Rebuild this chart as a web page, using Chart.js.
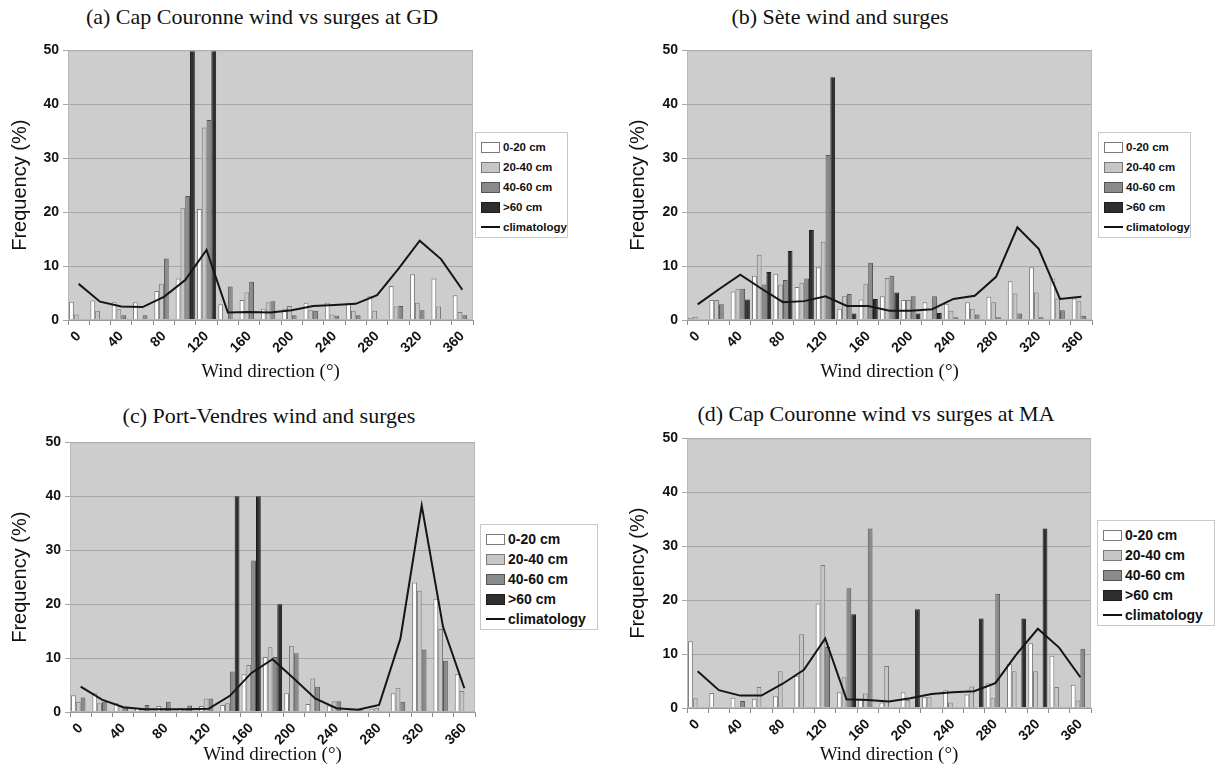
<!DOCTYPE html>
<html>
<head>
<meta charset="utf-8">
<script src="https://cdn.jsdelivr.net/npm/chart.js@4.4.1/dist/chart.umd.min.js"></script>
<style>
  body { margin: 0; background: #fff; }
  #page { position: relative; width: 1221px; height: 772px; overflow: hidden; }
  canvas { position: absolute; }
  .title { position: absolute; width: 600px; text-align: center; font-family: 'Liberation Serif', 'Times New Roman', serif; font-size: 22px; color: #111; white-space: nowrap; }
  .legend { position: absolute; background: #fff; border: 1px solid #c8c8c8; box-sizing: border-box; padding: 4px 0 0 5px; font-family: 'Liberation Sans', Arial, sans-serif; font-weight: bold; color: #111; }
  .legend-item { display: flex; align-items: center; white-space: nowrap; }
  .legend-color { display: inline-block; width: 17px; height: 9px; border: 1px solid #666; margin-right: 3px; }
  .legend-line { display: inline-block; width: 19px; height: 2px; background: #111; margin-right: 3px; }
</style>
</head>
<body>
<div id="page">
  <div class="title" style="left:-38px; top:4px;">(a) Cap Couronne wind vs surges at GD</div>
  <div class="title" style="left:540px; top:4px;">(b) Sète wind and surges</div>
  <div class="title" style="left:-31px; top:403px;">(c) Port-Vendres wind and surges</div>
  <div class="title" style="left:576px; top:401px;">(d) Cap Couronne wind vs surges at MA</div>

  <canvas id="chartA" width="480" height="347" style="left:0px; top:38px;"></canvas>
  <canvas id="chartB" width="479" height="347" style="left:618px; top:38px;"></canvas>
  <canvas id="chartC" width="480" height="338" style="left:0px; top:430px;"></canvas>
  <canvas id="chartD" width="478" height="342" style="left:618px; top:426px;"></canvas>

  <div class="legend" id="legendA" style="left:475px; top:132px; width:93px; height:106px; font-size:11.5px;"></div>
  <div class="legend" id="legendB" style="left:1098px; top:132px; width:93px; height:106px; font-size:11.5px;"></div>
  <div class="legend" id="legendC" style="left:480px; top:524px; width:118px; height:106px; font-size:14px;"></div>
  <div class="legend" id="legendD" style="left:1097px; top:520px; width:118px; height:106px; font-size:14px;"></div>
</div>
<script>
// wind direction classes (degrees)
const dirs = [0, 20, 40, 60, 80, 100, 120, 140, 160, 180, 200, 220, 240, 260, 280, 300, 320, 340, 360];
const seriesNames = ['0-20 cm', '20-40 cm', '40-60 cm', '>60 cm'];
const climName = 'climatology';

// (a) Cap Couronne wind vs surges at GD
const a020  = [3.4, 3.6, 3.3, 3.3, 5.4, 7.7, 20.6, 2.9, 3.7, 2.1, 2.1, 3.2, 3.2, 3.2, 4.5, 6.3, 8.5, 7.7, 4.6];
const a2040 = [1.0, 1.7, 2.0, 0, 6.7, 20.8, 35.7, 0, 5.1, 3.3, 2.6, 1.8, 1.0, 1.7, 1.7, 2.5, 3.2, 2.5, 1.5];
const a4060 = [0, 0, 0.9, 0.9, 11.4, 23.0, 37.1, 6.2, 7.1, 3.5, 0.9, 1.7, 0.8, 0.9, 0, 2.6, 1.8, 0, 0.9];
const a60   = [0, 0, 0, 0, 0, 50, 50, 0, 0, 0, 0, 0, 0, 0, 0, 0, 0, 0, 0];
const aClim = [6.7, 3.4, 2.5, 2.4, 4.3, 7.4, 13.0, 1.4, 1.5, 1.4, 1.8, 2.6, 2.8, 3.0, 4.6, 9.5, 14.7, 11.3, 5.6];

// (b) Sete wind and surges
const b020  = [0.4, 3.7, 5.3, 8.2, 8.6, 6.1, 9.8, 2.1, 3.8, 4.4, 3.7, 3.3, 3.0, 3.3, 4.3, 7.2, 9.8, 7.7, 4.0];
const b2040 = [0.6, 3.7, 5.8, 12.1, 6.6, 6.9, 14.5, 4.5, 6.7, 7.8, 3.7, 0, 1.7, 2.1, 3.3, 4.9, 5.1, 4.0, 3.5];
const b4060 = [0, 2.9, 5.8, 6.6, 7.4, 7.7, 30.6, 4.8, 10.6, 8.2, 4.4, 4.4, 0.5, 1.0, 0.5, 1.2, 0.5, 1.8, 0.8];
const b60   = [0, 0, 3.8, 8.9, 12.8, 16.7, 45.0, 1.2, 3.9, 5.1, 1.2, 1.3, 0, 0, 0, 0, 0, 0, 0];
const bClim = [2.9, 5.7, 8.4, 5.8, 3.3, 3.5, 4.4, 2.6, 2.6, 1.7, 1.7, 2.0, 3.9, 4.5, 8.0, 17.2, 13.2, 3.9, 4.3];

// (c) Port-Vendres wind and surges
const c020  = [3.1, 3.5, 1.7, 0.8, 1.1, 0.8, 1.1, 1.3, 7.0, 10.2, 3.5, 1.5, 1.2, 0.3, 0.5, 3.5, 24.0, 21.0, 7.0];
const c2040 = [1.9, 1.6, 1.1, 0.8, 0.8, 0.6, 2.5, 1.6, 8.7, 12.0, 12.3, 6.2, 2.0, 0.2, 0.8, 4.5, 22.5, 15.4, 3.9];
const c4060 = [2.7, 1.9, 0.8, 1.3, 1.9, 1.2, 2.5, 7.5, 28.1, 10.2, 10.9, 4.7, 2.0, 0.5, 0, 1.9, 11.6, 9.5, 0];
const c60   = [0, 0, 0, 0, 0, 0, 0, 40, 40, 20, 0, 0, 0, 0, 0, 0, 0, 0, 0];
const cClim = [4.7, 2.3, 0.9, 0.5, 0.5, 0.5, 0.6, 3.0, 7.2, 9.8, 6.2, 2.5, 0.7, 0.4, 1.3, 13.6, 38.3, 15.8, 4.4];

// (d) Cap Couronne wind vs surges at MA
const d020  = [12.4, 2.8, 1.9, 1.7, 2.2, 6.0, 19.4, 2.9, 1.6, 1.0, 2.9, 2.0, 3.3, 2.5, 4.6, 8.2, 12.0, 9.7, 4.3];
const d2040 = [1.8, 0, 0, 3.9, 6.8, 13.7, 26.5, 5.7, 2.7, 7.8, 1.5, 2.0, 1.0, 4.0, 1.8, 6.8, 6.8, 3.9, 1.4];
const d4060 = [0, 0, 1.3, 0, 0, 0, 11.3, 22.2, 33.3, 0, 0, 0, 0, 0, 21.2, 0, 0, 0, 11.0];
const d60   = [0, 0, 0, 0, 0, 0, 0, 17.4, 0, 0, 18.3, 0, 0, 16.6, 0, 16.6, 33.3, 0, 0];
const dClim = [6.8, 3.3, 2.3, 2.3, 4.5, 7.1, 12.9, 1.6, 1.5, 1.2, 1.8, 2.6, 2.9, 3.1, 4.6, 10.0, 14.7, 11.2, 5.7];

const fills   = ['#ffffff', '#c6c6c6', '#8a8a8a', '#2e2e2e'];
const borders = ['#7a7a7a', '#7a7a7a', '#555555', '#1c1c1c'];

// grey plot area like the Excel original
const plotArea = {
    id: 'plotArea',
    beforeDraw(chart) {
        const { ctx, chartArea: a } = chart;
        ctx.save();
        ctx.fillStyle = '#cdcdcd';
        ctx.fillRect(a.left, a.top, a.width, a.height);
        ctx.restore();
    },
    afterDraw(chart) {
        const { ctx, chartArea: a } = chart;
        ctx.save();
        ctx.strokeStyle = '#b8b8b8';
        ctx.lineWidth = 1;
        ctx.strokeRect(a.left + 0.5, a.top + 0.5, a.width - 1, a.height - 1);
        ctx.restore();
    }
};

function makePanel(id, values, clim, geo) {
    const ctx = document.getElementById(id).getContext('2d');
    const datasets = values.map((v, i) => ({
        label: seriesNames[i],
        data: v,
        backgroundColor: fills[i],
        borderColor: borders[i],
        borderWidth: 1,
        borderSkipped: 'bottom',
        categoryPercentage: 0.9,
        barPercentage: 1.0,
        order: 1
    }));
    datasets.push({
        type: 'line',
        label: climName,
        data: clim,
        borderColor: '#151515',
        borderWidth: 2,
        pointRadius: 0,
        tension: 0,
        order: 0
    });

    return new Chart(ctx, {
        type: 'bar',
        data: { labels: dirs.map(String), datasets: datasets },
        options: {
            responsive: false,
            animation: false,
            devicePixelRatio: 1,
            layout: { padding: { top: geo.padTop, right: geo.padRight, left: 0, bottom: 0 } },
            plugins: { legend: { display: false }, tooltip: { enabled: false } },
            scales: {
                x: {
                    grid: { offset: true, drawOnChartArea: false, tickLength: 5, color: '#8a8a8a' },
                    border: { color: '#9a9a9a' },
                    ticks: {
                        autoSkip: false,
                        minRotation: 45,
                        maxRotation: 45,
                        color: '#111',
                        font: { family: 'Liberation Sans', size: 14, weight: 'bold' },
                        callback: (val, i) => (dirs[i] % 40 === 0 ? String(dirs[i]) : '')
                    },
                    title: {
                        display: true,
                        text: 'Wind direction (°)',
                        color: '#111',
                        font: { family: 'Liberation Serif', size: 19 },
                        padding: { top: 0, bottom: 2 }
                    },
                    afterFit: (scale) => {
                        scale.height = geo.xH;
                        scale.paddingLeft = 0;
                        scale.paddingRight = 0;
                    }
                },
                y: {
                    min: 0,
                    max: 50,
                    grid: { color: '#a6a6a6', tickLength: 5 },
                    border: { color: '#9a9a9a' },
                    ticks: {
                        stepSize: 10,
                        color: '#111',
                        padding: 4,
                        font: { family: 'Liberation Sans', size: 14, weight: 'bold' }
                    },
                    title: {
                        display: true,
                        text: 'Frequency (%)',
                        color: '#111',
                        font: { family: 'Liberation Sans', size: 20 },
                        padding: { top: 8, bottom: 0 }
                    },
                    afterFit: (scale) => {
                        scale.width = geo.yW;
                    }
                }
            }
        },
        plugins: [plotArea]
    });
}

function createLegend(id, rowGap) {
    const box = document.getElementById(id);
    let html = seriesNames.map((name, i) => `
        <div class="legend-item" style="height:${rowGap}px">
            <span class="legend-color" style="background-color:${fills[i]}; border-color:${borders[i]}"></span>
            <span>${name.replace('>', '&gt;')}</span>
        </div>`).join('');
    html += `
        <div class="legend-item" style="height:${rowGap}px">
            <span class="legend-line"></span><span>${climName}</span>
        </div>`;
    box.innerHTML = html;
}

makePanel('chartA', [a020, a2040, a4060, a60], aClim, { padTop: 10, padRight: 7, yW: 68, xH: 65 });
makePanel('chartB', [b020, b2040, b4060, b60], bClim, { padTop: 11, padRight: 5, yW: 69, xH: 65 });
makePanel('chartC', [c020, c2040, c4060, c60], cClim, { padTop: 11, padRight: 5, yW: 70, xH: 56 });
makePanel('chartD', [d020, d2040, d4060, d60], dClim, { padTop: 11, padRight: 5, yW: 69, xH: 60 });

createLegend('legendA', 20);
createLegend('legendB', 20);
createLegend('legendC', 20);
createLegend('legendD', 20);
</script>
</body>
</html>
